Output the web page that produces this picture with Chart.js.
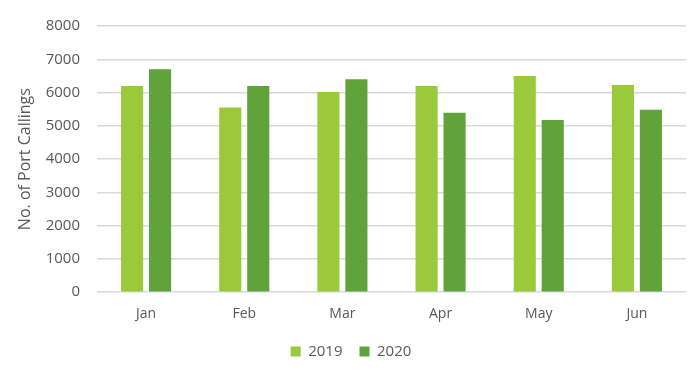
<!DOCTYPE html>
<html>
<head>
<meta charset="utf-8">
<script src="https://cdn.jsdelivr.net/npm/chart.js@4"></script>
<style>
    html, body { margin: 0; padding: 0; background: #fff; }
    #wrap { width: 700px; height: 372px; }
</style>
</head>
<body>
<div id="wrap"><canvas id="port-chart" width="700" height="372"></canvas></div>
<script>
// 월별 입항 건수
const months = ['Jan', 'Feb', 'Mar', 'Apr', 'May', 'Jun'];
const calls2019 = [6200, 5550, 6020, 6200, 6500, 6230];
const calls2020 = [6700, 6200, 6400, 5390, 5175, 5480];
const yTicks = [0, 1000, 2000, 3000, 4000, 5000, 6000, 7000, 8000];

const textColor = '#595959';
const fontFamily = '"Open Sans", "Liberation Sans", sans-serif';

function portChart() {
    const ctx = document.getElementById('port-chart').getContext('2d');

    const data = {
        labels: months,
        datasets: [{
            label: '2019',
            data: calls2019,
            backgroundColor: '#9aca3c',
            barPercentage: 0.79,
            categoryPercentage: 0.57
        }, {
            label: '2020',
            data: calls2020,
            backgroundColor: '#5fa33a',
            barPercentage: 0.79,
            categoryPercentage: 0.57
        }]
    };

    const options = {
        responsive: false,
        animation: false,
        layout: {
            padding: { top: 15, right: 14, left: 16, bottom: 3 }
        },
        scales: {
            x: {
                grid: { display: false },
                border: { display: false },
                ticks: {
                    color: textColor,
                    padding: 5,
                    font: { family: fontFamily, size: 14 }
                }
            },
            y: {
                min: 0,
                max: 8000,
                afterBuildTicks: function (scale) {
                    scale.ticks = yTicks.map(v => ({ value: v }));
                },
                afterFit: function (scale) {
                    scale.width = 81; // 플롯 시작을 x=97 부근에 맞춤
                },
                grid: {
                    color: '#d9d9d9',
                    lineWidth: 1.5,
                    drawTicks: false
                },
                border: { display: false },
                ticks: {
                    color: textColor,
                    padding: 17,
                    font: { family: fontFamily, size: 15 },
                    callback: function (value) {
                        return String(value);
                    }
                },
                title: {
                    display: true,
                    text: 'No. of Port Callings',
                    color: textColor,
                    padding: { top: 0, bottom: 2 },
                    font: { family: fontFamily, size: 16 }
                }
            }
        },
        plugins: {
            legend: {
                position: 'bottom',
                labels: {
                    color: textColor,
                    boxWidth: 10,
                    boxHeight: 10,
                    padding: 17,
                    font: { family: fontFamily, size: 15 }
                }
            },
            tooltip: { enabled: false }
        }
    };

    new Chart(ctx, {
        type: 'bar',
        data: data,
        options: options
    });
}

portChart();
</script>
</body>
</html>
